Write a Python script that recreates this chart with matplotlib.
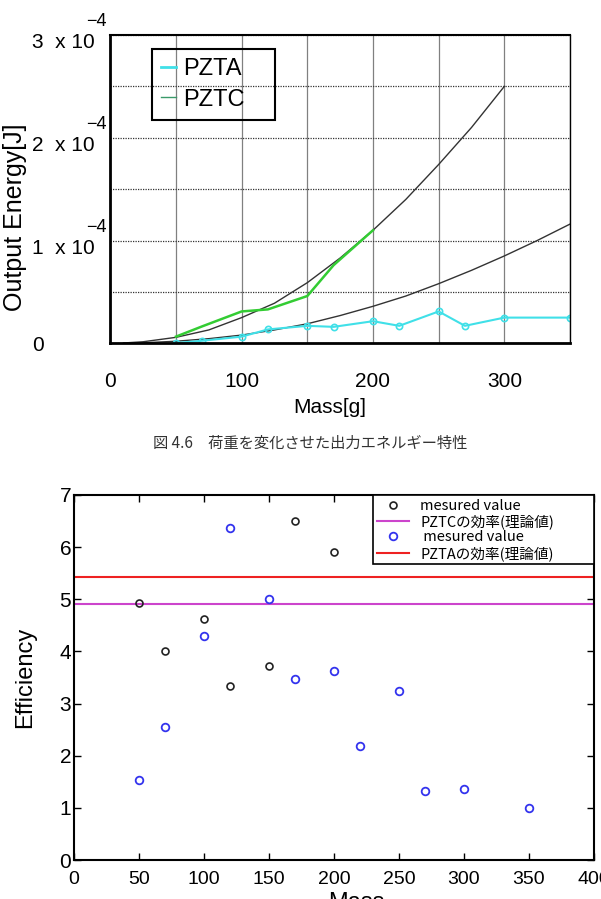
import numpy as np
import matplotlib
matplotlib.use("Agg")
import matplotlib.pyplot as plt
from matplotlib.lines import Line2D
from matplotlib import transforms as mtrans

# ---- top chart: output energy vs mass (energies in units of 1e-4 J)
theory_mass_c = [10, 25, 50, 75, 100, 125, 150, 175, 200, 225, 250, 275, 300]
theory_energy_c = [0.003, 0.015, 0.058, 0.13, 0.25, 0.39, 0.59, 0.83, 1.10, 1.40, 1.74, 2.10, 2.50]
theory_mass_a = [10, 25, 50, 75, 100, 125, 150, 175, 200, 225, 250, 275, 300, 325, 350]
theory_energy_a = [0.001, 0.005, 0.02, 0.045, 0.08, 0.13, 0.19, 0.27, 0.36, 0.46, 0.58, 0.71, 0.85, 1.0, 1.16]

pztc_mass = [50, 70, 100, 120, 150, 170, 200]
pztc_energy = [0.065, 0.165, 0.31, 0.33, 0.46, 0.76, 1.10]
pzta_mass = [50, 70, 100, 120, 150, 170, 200, 220, 250, 270, 300, 350]
pzta_energy = [0.003, 0.025, 0.065, 0.135, 0.17, 0.16, 0.215, 0.17, 0.31, 0.17, 0.25, 0.25]

ytick_vals = [0, 1e-4, 2e-4, 3e-4]
ytick_main = ["0", "1  x 10", "2  x 10", "3  x 10"]
ytick_exp = ["", "\u22124", "\u22124", "\u22124"]

# ---- bottom chart: efficiency vs mass
eff_mass_c = [50, 70, 100, 120, 150, 170, 200]
eff_c = [4.93, 4.01, 4.62, 3.34, 3.73, 6.50, 5.90]
eff_mass_a = [50, 70, 100, 120, 150, 170, 200, 220, 250, 270, 300, 350]
eff_a = [1.53, 2.55, 4.30, 6.36, 5.00, 3.47, 3.63, 2.18, 3.24, 1.32, 1.36, 0.99]
theory_eff_c = 4.91
theory_eff_a = 5.43

legend2_labels = ["mesured value", "PZTCの効率(理論値)", " mesured value", "PZTAの効率(理論値)"]
caption = "図 4.6\u3000荷重を変化させた出力エネルギー特性"

SANS = ["Liberation Sans", "DejaVu Sans"]
JP = ["Noto Sans CJK JP", "DejaVu Sans"]

W, H = 601, 899
fig = plt.figure(figsize=(W / 100, H / 100), dpi=100)

# ================= top chart =================
l1, r1, t1, b1 = 110.3, 570, 35, 343.3
ax1 = fig.add_axes([l1 / W, 1 - b1 / H, (r1 - l1) / W, (b1 - t1) / H])
scale = 1e-4
ax1.plot(theory_mass_c, np.array(theory_energy_c) * scale, color="#333333", lw=1)
ax1.plot(theory_mass_a, np.array(theory_energy_a) * scale, color="#333333", lw=1)
ax1.plot(pztc_mass, np.array(pztc_energy) * scale, color="#33cc33", lw=1.8)
ax1.plot(pzta_mass, np.array(pzta_energy) * scale, color="#40e0e8", lw=1.5,
         marker="o", ms=4.5, mfc="none", mec="#40e0e8", mew=1.2)

ax1.set_xlim(0, 350)
ax1.set_ylim(0, 3e-4)
ax1.set_xticks([0, 100, 200, 300])
ax1.set_xticklabels(["0", "100", "200", "300"], fontsize=15, family=SANS)
ax1.set_xticks(np.arange(50, 351, 50), minor=True)
ax1.set_yticks(ytick_vals)
ax1.set_yticklabels([""] * len(ytick_vals))
ax1.set_yticks(np.arange(0.5e-4, 3e-4, 0.5e-4), minor=True)
ax1.tick_params(which="both", length=0)
ax1.tick_params(axis="x", pad=21)
ax1.grid(True, which="both", axis="x", color="#808080", lw=0.9)
ax1.grid(True, which="both", axis="y", color="#333333", lw=0.9, ls=(0, (1, 1)))
ax1.set_axisbelow(True)
for side, lw in [("left", 2), ("bottom", 2), ("top", 1.5), ("right", 1)]:
    ax1.spines[side].set_linewidth(lw)
    ax1.spines[side].set_color("black")

ytrans = ax1.get_yaxis_transform()
for v, main, ex in zip(ytick_vals, ytick_main, ytick_exp):
    off = -8 if ex else -2
    ax1.text(-0.17, v, main, transform=mtrans.offset_copy(ytrans, fig=fig, y=off, units="dots"),
             ha="left", va="center", fontsize=15, family=SANS)
    if ex:
        ax1.text(-0.052, v, ex, transform=mtrans.offset_copy(ytrans, fig=fig, y=13, units="dots"),
                 ha="left", va="center", fontsize=13, family=SANS)

ax1.set_xlabel("Mass[g]", fontsize=15, family=SANS)
ax1.xaxis.set_label_coords((330 - l1) / (r1 - l1), (b1 - 408) / (b1 - t1))
ax1.xaxis.label.set_verticalalignment("center")
ax1.set_ylabel("Output Energy[J]", fontsize=18, family=SANS)
ax1.yaxis.set_label_coords((15 - l1) / (r1 - l1), (b1 - 217) / (b1 - t1))
ax1.yaxis.label.set_verticalalignment("center")

h1 = [Line2D([], [], color="#40e0e8", lw=2), Line2D([], [], color="#3a9a6a", lw=1)]
lx0 = (152 - l1) / (r1 - l1)
lx1 = (275 - l1) / (r1 - l1)
ly1 = (b1 - 49) / (b1 - t1)
leg1 = ax1.legend(h1, ["PZTA", "PZTC"], loc="upper left", mode="expand",
                  bbox_to_anchor=(lx0, 0, lx1 - lx0, ly1), borderaxespad=0,
                  prop={"family": SANS, "size": 17}, handlelength=0.6,
                  handletextpad=0.3, labelspacing=0.35, borderpad=0.4,
                  fancybox=False, edgecolor="black", framealpha=1)
leg1.get_frame().set_facecolor("none")
leg1.get_frame().set_linewidth(1.5)

fig.text(310 / W, 1 - 443 / H, caption, ha="center", va="center",
         fontsize=11, family=JP, color="#333333")

# ================= bottom chart =================
l2, r2, t2, b2 = 74, 594, 495, 860
ax2 = fig.add_axes([l2 / W, 1 - b2 / H, (r2 - l2) / W, (b2 - t2) / H])
line_c = ax2.axhline(theory_eff_c, color="#cc44cc", lw=1.5)
line_a = ax2.axhline(theory_eff_a, color="#ee2222", lw=1.5)
pts_c, = ax2.plot(eff_mass_c, eff_c, "o", mfc="none", mec="#222222", ms=5, mew=1.2)
pts_a, = ax2.plot(eff_mass_a, eff_a, "o", mfc="none", mec="#3333ee", ms=5.5, mew=1.3)

ax2.set_xlim(0, 400)
ax2.set_ylim(0, 7)
ax2.set_xticks(np.arange(0, 401, 50))
ax2.set_yticks(np.arange(0, 8, 1))
ax2.tick_params(direction="in", top=True, right=True, length=5, width=1)
ax2.tick_params(axis="x", pad=8, labelsize=14)
ax2.tick_params(axis="y", pad=2, labelsize=15)
for lbl in ax2.get_xticklabels() + ax2.get_yticklabels():
    lbl.set_family(SANS)
for s in ax2.spines.values():
    s.set_linewidth(1.5)

ax2.set_ylabel("Efficiency", fontsize=17, family=SANS)
ax2.yaxis.set_label_coords((25 - l2) / (r2 - l2), (b2 - 677) / (b2 - t2))
ax2.yaxis.label.set_verticalalignment("center")
ax2.set_xlabel("Mass", fontsize=17, family=SANS)
ax2.xaxis.set_label_coords((356 - l2) / (r2 - l2), (b2 - 892) / (b2 - t2))
ax2.xaxis.label.set_verticalalignment("top")

lg0 = (373 - l2) / (r2 - l2)
leg2 = ax2.legend([pts_c, line_c, pts_a, line_a], legend2_labels, loc="upper left",
                  mode="expand", bbox_to_anchor=(lg0, 0, 1 - lg0, 1), borderaxespad=0,
                  prop={"family": JP, "size": 10.5}, handlelength=2.2,
                  handletextpad=0.8, labelspacing=0.1, borderpad=0.25,
                  fancybox=False, edgecolor="black", framealpha=1)
leg2.get_frame().set_linewidth(1.2)

fig.savefig("out.png", dpi=100)
